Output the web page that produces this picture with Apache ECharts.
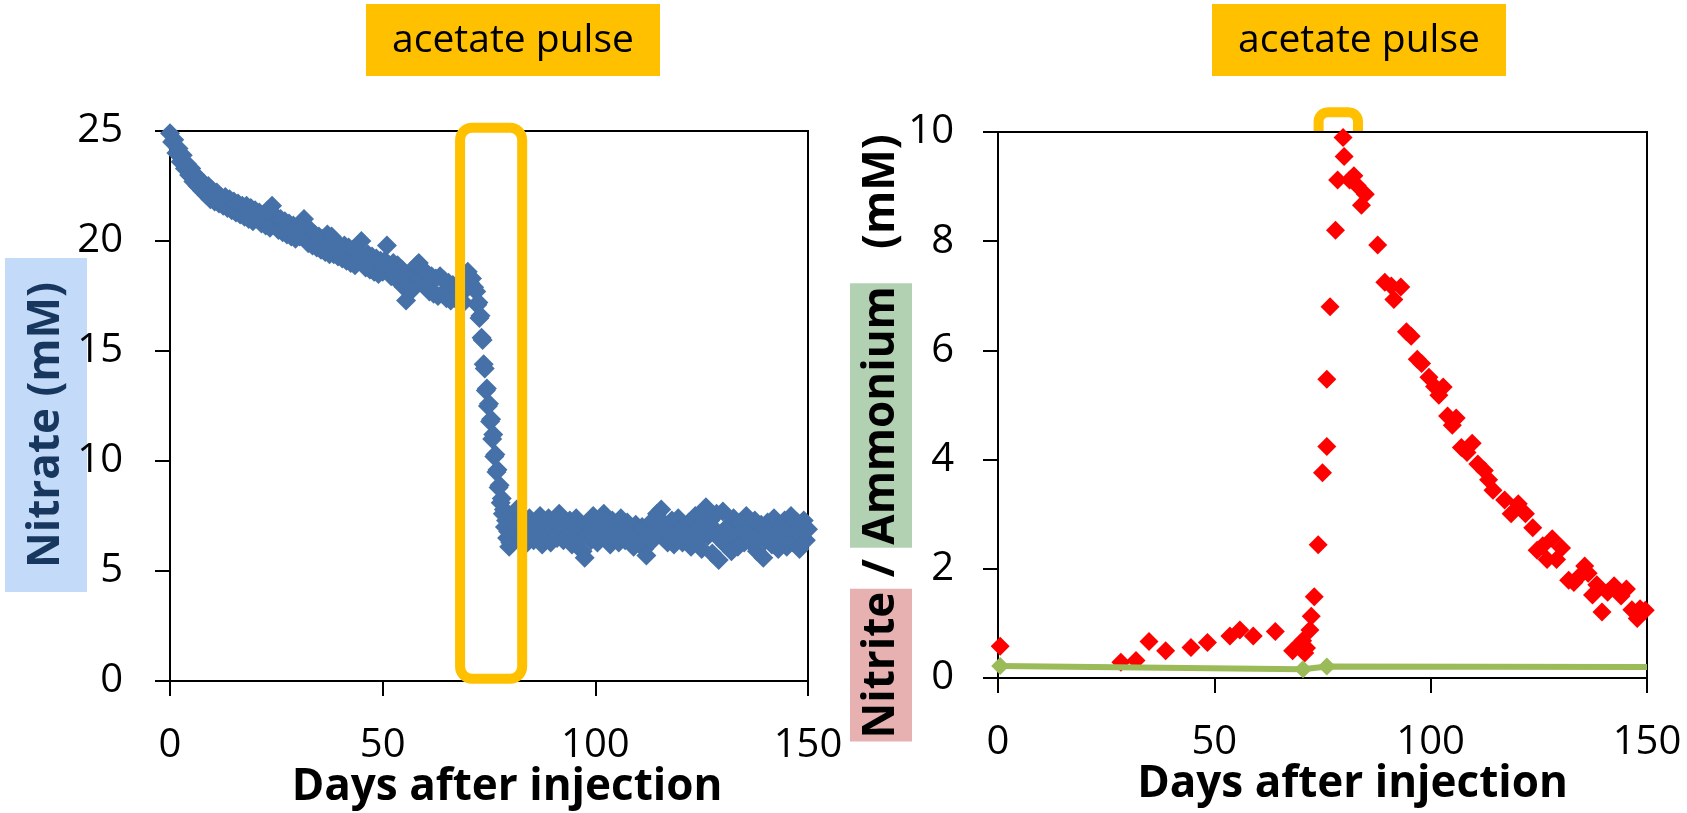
<!DOCTYPE html>
<html><head><meta charset="utf-8">
<script src="https://cdn.jsdelivr.net/npm/echarts@6/dist/echarts.min.js"></script>
<style>html,body{margin:0;padding:0;background:#fff}#c{width:1687px;height:813px}</style>
</head><body><div id="c"></div>
<script>
// ---- data ----
const xTicks = [0, 50, 100, 150];
const nitrateTicks = [0, 5, 10, 15, 20, 25];
const nitriteTicks = [0, 2, 4, 6, 8, 10];

const nitrateDays = [
0,0.5,1,1.5,2,2.5,3,3.5,4,4.5,5,5.5,6,6.5,7,7.5,8,8.5,9,9.5,
10,10.5,11,11.5,12,12.5,13,13.5,14,14.5,15,15.5,16,16.5,17,17.5,18,18.5,19,19.5,
20,20.5,21,21.5,22,22.5,23,23.5,24,24.5,25,25.5,26,26.5,27,27.5,28,28.5,29,29.5,
30,30.5,31,31.5,32,32.5,33,33.5,34,34.5,35,35.5,36,36.5,37,37.5,38,38.5,39,39.5,
40,40.5,41,41.5,42,42.5,43,43.5,44,44.5,45,45.5,46,46.5,47,47.5,48,48.5,49,49.5,
50,50.5,51,51.5,52,52.5,53,53.5,54,54.5,55,55.5,56,56.5,57,57.5,58,58.5,59,59.5,
60,60.5,61,61.5,62,62.5,63,63.5,64,64.5,65,65.5,66,66.5,67,67.5,68,68.5,69,69.5,
70,70.5,71,71.5,
72,72.25,72.5,72.75,73,73.25,73.5,73.75,74,74.25,74.5,74.75,75,75.25,75.5,75.75,
76,76.25,76.5,76.75,77,77.25,77.5,77.75,78,78.25,78.5,78.75,79,79.25,79.5,79.75,
80,80.5,81,81.5,82,82.5,83,83.5,84,84.5,85,85.5,86,86.5,87,87.5,88,88.5,89,89.5,
90,90.5,91,91.5,92,92.5,93,93.5,94,94.5,95,95.5,96,96.5,97,97.5,98,98.5,99,99.5,
100,100.5,101,101.5,102,102.5,103,103.5,104,104.5,105,105.5,106,106.5,107,107.5,108,108.5,109,109.5,
110,110.5,111,111.5,112,112.5,113,113.5,114,114.5,115,115.5,116,116.5,117,117.5,118,118.5,119,119.5,
120,120.5,121,121.5,122,122.5,123,123.5,124,124.5,125,125.5,126,126.5,127,127.5,128,128.5,129,129.5,
130,130.5,131,131.5,132,132.5,133,133.5,134,134.5,135,135.5,136,136.5,137,137.5,138,138.5,139,139.5,
140,140.5,141,141.5,142,142.5,143,143.5,144,144.5,145,145.5,146,146.5,147,147.5,148,148.5,149,149.5,
150];
const nitrate = [
24.9,24.5,24.6,24.0,24.2,23.6,23.9,23.3,23.5,23.0,23.3,22.7,23.0,22.5,22.8,22.3,22.6,22.1,22.5,21.9,
22.3,21.8,22.2,21.7,22.0,21.6,22.0,21.5,21.9,21.4,21.8,21.3,21.7,21.2,21.6,21.1,21.6,21.0,21.5,20.9,
21.4,21.0,21.3,20.8,21.2,20.7,21.4,20.6,21.6,20.9,21.1,20.5,21.0,20.4,20.9,20.3,20.8,20.2,20.7,20.1,
20.6,20.2,20.7,21.0,20.3,19.9,20.5,19.8,20.3,19.7,20.2,19.6,20.1,19.5,20.3,19.4,20.2,19.4,19.9,19.3,
19.8,19.2,19.8,19.1,19.7,19.0,19.6,18.9,19.5,19.1,20.0,19.3,18.8,19.4,18.7,19.3,18.6,19.2,18.5,19.1,
18.6,19.1,19.8,18.9,18.4,19.0,18.3,18.9,18.2,18.7,17.9,17.3,18.1,18.6,17.8,18.5,18.9,19.0,18.3,18.7,
18.0,18.5,17.7,18.4,17.6,18.3,17.5,18.4,17.6,18.2,17.4,18.1,17.3,18.0,17.4,17.9,17.3,17.6,17.2,18.2,
18.6,18.1,18.3,17.9,
17.7,17.1,17.2,16.5,16.6,15.6,15.5,14.4,14.2,13.2,13.3,12.5,12.6,11.8,11.9,11.0,
11.2,10.2,10.3,9.5,9.6,8.8,8.9,8.1,8.3,7.6,7.8,7.0,7.3,6.5,6.8,6.1,
6.3,6.9,7.4,7.8,7.1,6.5,7.3,6.9,6.3,7.4,6.8,6.4,7.2,6.6,7.5,6.2,7.0,6.7,7.4,6.3,
6.9,7.2,6.5,7.6,6.8,6.4,7.1,6.6,7.3,6.2,6.9,7.4,6.5,7.0,5.9,5.6,6.6,7.2,6.4,7.5,
6.8,6.3,7.1,6.7,7.6,6.5,6.9,6.2,7.3,6.6,7.0,6.3,7.4,6.8,6.4,7.2,6.5,6.9,6.1,7.1,
6.6,6.3,7.0,6.0,5.7,6.6,7.2,6.4,6.9,7.6,6.7,7.8,6.5,7.1,6.3,6.8,7.3,6.2,6.6,7.4,
6.9,6.3,7.0,6.5,7.2,6.1,6.8,7.5,6.4,7.0,6.0,7.7,7.9,6.6,7.3,5.8,6.9,7.6,5.5,6.4,
7.7,6.2,7.0,6.7,5.9,7.4,6.5,6.1,7.2,6.8,6.3,7.5,6.6,7.0,6.2,7.3,5.9,6.7,7.1,5.6,
6.4,7.2,6.8,6.2,7.4,6.6,6.0,7.0,6.5,7.3,6.1,6.9,7.5,6.3,6.8,7.2,6.0,6.6,7.3,6.4,
6.9];

const nitriteDays = [0.5,28.4,31.9,34.9,38.75,44.6,48.4,53.6,55.9,59,64.1,68.1,69.9,70.4,70.9,71.3,72.1,72.4,73.1,74,75,76,76,76.75,78,78.5,79.75,80,81.25,82.25,83,84,84.9,87.75,89.4,90.9,91.5,93.1,94.4,95.5,96.9,97.9,99.6,100.9,101.9,102.9,103.9,105,105.9,107.1,108.4,109.6,110.9,112.4,113.4,114.4,117.1,118.6,120.25,121.9,123.6,124.6,125.9,126.9,128.1,129.1,130.25,131.9,133.1,134.6,135.6,136.4,137.4,138.4,139.6,140.9,142.4,144,145.25,146.5,147.75,148.4,149.6];
const nitrite = [0.58,0.29,0.32,0.67,0.50,0.56,0.65,0.77,0.88,0.77,0.85,0.50,0.63,0.68,0.46,0.55,0.88,1.13,1.49,2.44,3.76,4.24,5.47,6.80,8.20,9.12,9.90,9.55,9.12,9.20,9.02,8.66,8.86,7.93,7.25,7.18,6.93,7.16,6.34,6.26,5.84,5.76,5.51,5.34,5.18,5.33,4.80,4.63,4.76,4.22,4.13,4.30,3.92,3.80,3.63,3.44,3.26,3.01,3.19,3.01,2.75,2.34,2.42,2.17,2.55,2.17,2.38,1.79,1.75,1.88,2.05,1.92,1.52,1.71,1.21,1.57,1.69,1.50,1.63,1.25,1.09,1.27,1.24];

const ammoniumDays = [0.5, 70.5, 76, 150];
const ammonium = [0.22, 0.16, 0.21, 0.2];
const ammoniumMarked = [true, true, true, false];

// ---- chart ----
const FONT = "'Open Sans', 'Noto Sans', sans-serif";
const chart = echarts.init(document.getElementById('c'), null, {renderer: 'canvas'});

function xAxisCfg(grid, padLeft) {
  return {
    gridIndex: grid, type: 'value',
    min: xTicks[0], max: xTicks[xTicks.length - 1], interval: xTicks[1] - xTicks[0],
    axisLine: {show: true, onZero: false, lineStyle: {color: '#000', width: 2}},
    axisTick: {show: true, length: 15, inside: false, lineStyle: {color: '#000', width: 2}},
    axisLabel: {fontSize: 40, color: '#000', fontFamily: FONT, margin: 45},
    splitLine: {show: false},
    name: 'Days after injection', nameLocation: 'middle', nameGap: 84, nameMoveOverlap: false,
    nameTextStyle: {fontSize: 44, fontWeight: 'bold', color: '#000', fontFamily: FONT, padding: [0, 0, 0, padLeft]}
  };
}
function yAxisCfg(grid, ticks, margin) {
  return {
    gridIndex: grid, type: 'value',
    min: ticks[0], max: ticks[ticks.length - 1], interval: ticks[1] - ticks[0],
    axisLine: {show: true, onZero: false, lineStyle: {color: '#000', width: 2}},
    axisTick: {show: true, length: 15, inside: false, lineStyle: {color: '#000', width: 2}},
    axisLabel: {fontSize: 40, color: '#000', fontFamily: FONT, margin: margin},
    splitLine: {show: false},
    nameMoveOverlap: false
  };
}

const yLeft = yAxisCfg(0, nitrateTicks, 47);
yLeft.name = '{b|Nitrate (mM)}';
yLeft.nameLocation = 'middle';
yLeft.nameRotate = 90;
yLeft.nameGap = 83;
yLeft.nameTextStyle = {
  padding: [0, 38, 0, 0],
  rich: {b: {fontSize: 44, fontWeight: 'bold', color: '#17375e', fontFamily: FONT,
             backgroundColor: '#c3dbf8', padding: [19, 24, 19, 24]}}
};

const yRight = yAxisCfg(1, nitriteTicks, 44);
yRight.name = '{n|Nitrite}{t| / }{a|Ammonium}{t|   (mM)}';
yRight.nameLocation = 'middle';
yRight.nameRotate = 90;
yRight.nameGap = 86;
yRight.nameTextStyle = {
  padding: [0, 66, 0, 0],
  rich: {
    n: {fontSize: 44, fontWeight: 'bold', color: '#000', fontFamily: FONT, backgroundColor: '#e8b1b1', padding: [9, 3, 9, 3]},
    a: {fontSize: 44, fontWeight: 'bold', color: '#000', fontFamily: FONT, backgroundColor: '#b2d1b2', padding: [9, 3, 9, 3]},
    t: {fontSize: 44, fontWeight: 'bold', color: '#000', fontFamily: FONT, padding: [9, 0, 9, 0]}
  }
};

const option = {
  animation: false,
  backgroundColor: '#fff',
  grid: [
    {left: 170, top: 131, width: 638, height: 550, show: true, borderColor: '#000', borderWidth: 2,
     containLabel: false, outerBoundsMode: 'none'},
    {left: 998, top: 132, width: 649, height: 546, show: true, borderColor: '#000', borderWidth: 2,
     containLabel: false, outerBoundsMode: 'none'}
  ],
  xAxis: [xAxisCfg(0, 36), xAxisCfg(1, 60)],
  yAxis: [yLeft, yRight],
  series: [
    {type: 'scatter', xAxisIndex: 0, yAxisIndex: 0, symbol: 'diamond', symbolSize: 20,
     itemStyle: {color: '#4571a8', opacity: 1}, clip: false,
     data: nitrateDays.map((d, i) => [d, nitrate[i]])},
    {type: 'scatter', xAxisIndex: 1, yAxisIndex: 1, symbol: 'diamond', symbolSize: 19,
     itemStyle: {color: '#ff0000', opacity: 1}, clip: false,
     data: nitriteDays.map((d, i) => [d, nitrite[i]])},
    {type: 'line', xAxisIndex: 1, yAxisIndex: 1, symbol: 'diamond', symbolSize: 18, showSymbol: true,
     lineStyle: {color: '#9bbb59', width: 6}, itemStyle: {color: '#9bbb59', opacity: 1}, z: 3,
     data: ammoniumDays.map((d, i) => ammoniumMarked[i] ? [d, ammonium[i]] : {value: [d, ammonium[i]], symbol: 'none'})}
  ],
  graphic: [
    {type: 'group', left: 366, top: 4, children: [
      {type: 'rect', shape: {x: 0, y: 0, width: 294, height: 72}, style: {fill: '#ffc000'}},
      {type: 'text', x: 147, y: 37, style: {text: 'acetate pulse', font: '39px "Open Sans"', fill: '#000', align: 'center', verticalAlign: 'middle'}}
    ]},
    {type: 'group', left: 1212, top: 4, children: [
      {type: 'rect', shape: {x: 0, y: 0, width: 294, height: 72}, style: {fill: '#ffc000'}},
      {type: 'text', x: 147, y: 37, style: {text: 'acetate pulse', font: '39px "Open Sans"', fill: '#000', align: 'center', verticalAlign: 'middle'}}
    ]}
  ]
};
chart.setOption(option);

// annotation frames placed through the axes' own scales
const p1 = chart.convertToPixel({gridIndex: 0}, [68.2, 25.15]);
const p2 = chart.convertToPixel({gridIndex: 0}, [82.8, 0.1]);
const q1 = chart.convertToPixel({gridIndex: 1}, [74.1, 10.36]);
const q2 = chart.convertToPixel({gridIndex: 1}, [83.2, 10]);
const r = 9;
const pts = [[q1[0], q2[1] - 1]];
for (let k = 0; k <= 6; k++) {
  const a = Math.PI - (Math.PI / 2) * k / 6;
  pts.push([q1[0] + r + r * Math.cos(a), q1[1] + r - r * Math.sin(a)]);
}
for (let k = 0; k <= 6; k++) {
  const a = Math.PI / 2 - (Math.PI / 2) * k / 6;
  pts.push([q2[0] - r + r * Math.cos(a), q1[1] + r - r * Math.sin(a)]);
}
pts.push([q2[0], q2[1] - 1]);

chart.setOption({graphic: option.graphic.concat([
  {type: 'rect', z: 100, shape: {x: p1[0], y: p1[1], width: p2[0] - p1[0], height: p2[1] - p1[1], r: 12},
   style: {fill: 'none', stroke: '#ffc000', lineWidth: 10}},
  {type: 'polyline', z: 1, shape: {points: pts}, style: {fill: 'none', stroke: '#ffc000', lineWidth: 10, lineJoin: 'round'}}
])});
</script>
</body></html>
